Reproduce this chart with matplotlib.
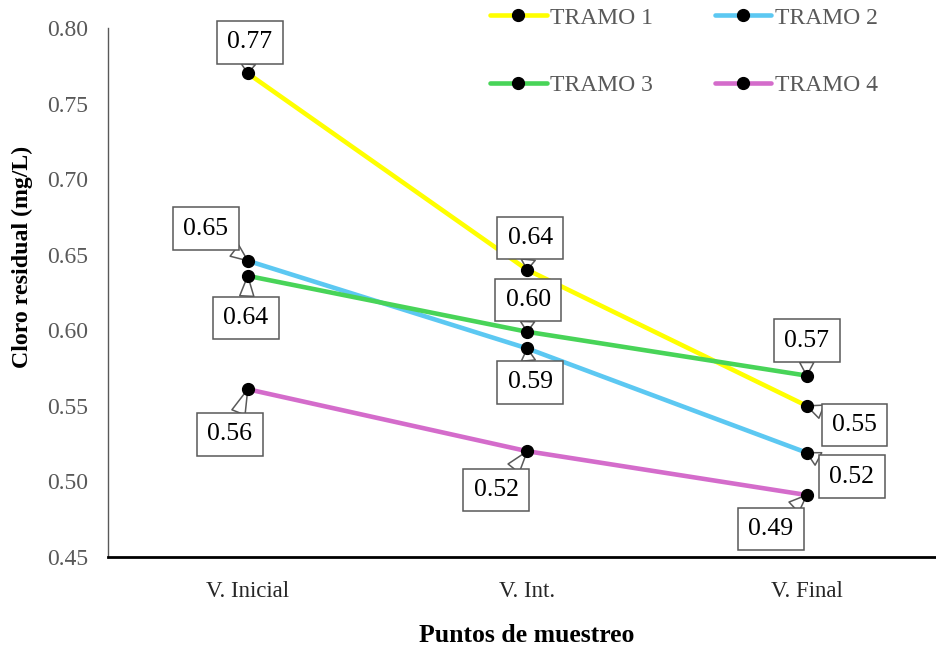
import matplotlib
matplotlib.use("Agg")
import matplotlib.pyplot as plt
from matplotlib.lines import Line2D

plt.rcParams["font.family"] = ["Liberation Serif", "DejaVu Serif"]

# sampling points and residual chlorine per stretch (mg/L)
puntos = ["V. Inicial", "V. Int.", "V. Final"]
tramos = ["TRAMO 1", "TRAMO 2", "TRAMO 3", "TRAMO 4"]
tramo1 = [0.770, 0.640, 0.550]
tramo2 = [0.646, 0.588, 0.519]
tramo3 = [0.636, 0.599, 0.570]
tramo4 = [0.561, 0.520, 0.491]
yticks = [0.45, 0.50, 0.55, 0.60, 0.65, 0.70, 0.75, 0.80]

colores = ["#FFFF00", "#5CC8F2", "#48D458", "#D46CCB"]

# callout offsets (pixels, relative to each point) for the value boxes
offsets = [
    [(2, 31), (3, 32), (48, -19)],
    [(-42, 32), (3, -34), (45, -24)],
    [(-2, -42), (1, 32), (0, 35)],
    [(-18, -45), (-31, -39), (-36, -34)],
]

fig = plt.figure(figsize=(9.37, 6.55), dpi=100)
ax = fig.add_axes([108 / 937, 1 - 557 / 655, 838.5 / 937, 529 / 655])

x = list(range(len(puntos)))
series = [tramo1, tramo2, tramo3, tramo4]
for vals, color, offs in zip(series, colores, offsets):
    ax.plot(x, vals, color=color, lw=3.3, solid_capstyle="round", zorder=2)
    ax.plot(x, vals, ls="none", marker="o", ms=8.5, color="black", zorder=5)
    for xi, v, (dx, dy) in zip(x, vals, offs):
        ax.annotate(
            f"{v:.2f}", xy=(xi, v), xytext=(dx, dy),
            textcoords="offset pixels", ha="center", va="center",
            fontsize=18.5, color="black", zorder=4,
            bbox=dict(boxstyle="square,pad=0.4", fc="white", ec="#595959", lw=1.1),
            arrowprops=dict(arrowstyle="wedge,tail_width=0.55", fc="white",
                            ec="#595959", lw=1.1, shrinkA=0, shrinkB=0),
        )

ax.set_xlim(-0.5, 2.5)
ax.set_ylim(0.45, 0.80)
ax.set_xticks(x)
ax.set_xticklabels(puntos, fontsize=16.5, color="#262626")
ax.set_yticks(yticks)
ax.set_yticklabels([f"{t:.2f}" for t in yticks], fontsize=17, color="#595959")
ax.tick_params(axis="both", length=0)
ax.tick_params(axis="x", pad=17)
ax.tick_params(axis="y", pad=14)

for side in ("top", "right"):
    ax.spines[side].set_visible(False)
ax.spines["left"].set_color("#595959")
ax.spines["left"].set_linewidth(1.0)
ax.spines["bottom"].set_color("black")
ax.spines["bottom"].set_linewidth(2.0)

fig.text(527 / 937, 1 - 636 / 655, "Puntos de muestreo", ha="center", va="center",
         fontsize=18.5, fontweight="bold")
fig.text(22 / 937, 1 - 257 / 655, "Cloro residual (mg/L)", ha="center", va="center",
         rotation=90, fontsize=17.2, fontweight="bold")

# legend filled row by row: column-major order for ncol=2
handles = [Line2D([], [], color=c, lw=3.3, marker="o", ms=8.5,
                  mfc="black", mec="black", solid_capstyle="round") for c in colores]
order = [0, 2, 1, 3]
fig.legend([handles[i] for i in order], [tramos[i] for i in order],
           loc="upper left", bbox_to_anchor=(490 / 937, 1 - 7 / 655),
           ncol=2, frameon=False, fontsize=17, handlelength=2.4, handletextpad=0.15,
           columnspacing=2.6, labelspacing=1.94, borderpad=0, borderaxespad=0,
           labelcolor="#595959")

fig.savefig("out.png", dpi=100, facecolor="white")
